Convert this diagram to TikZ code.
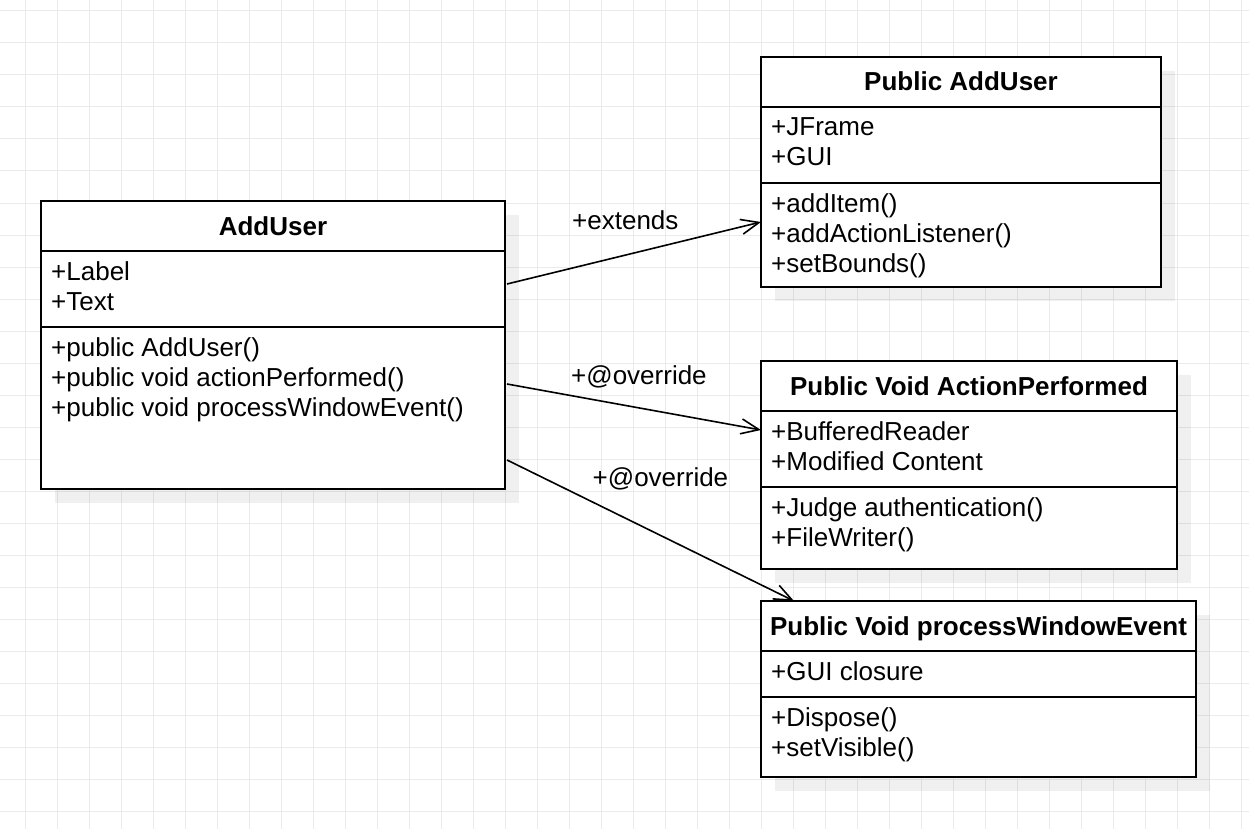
\documentclass[tikz,border=0pt]{standalone}
\usepackage{fontspec}
\setmainfont{Liberation Sans}
\usetikzlibrary{calc,arrows.meta,shadows}

\definecolor{gridc}{HTML}{EBEBEB}

\tikzset{
  classbox/.style={draw=black, line width=2pt, fill=white, anchor=north west,
    inner sep=0pt, outer sep=0pt,
    drop shadow={shadow xshift=14pt, shadow yshift=-14pt, fill=black, opacity=0.06}},
  divider/.style={draw=black, line width=2pt},
  mtext/.style={anchor=base west, inner sep=0pt, font=\fontsize{26}{30}\selectfont},
  htext/.style={anchor=base, inner sep=0pt, font=\fontsize{26}{30}\selectfont\bfseries},
  ltext/.style={anchor=base west, inner sep=0pt, font=\fontsize{26}{30}\selectfont},
  rel/.style={draw=black, line width=1.6pt,
    -{Straight Barb[length=18pt, width=15pt, line width=1.6pt]}}
}

\begin{document}
\begin{tikzpicture}[x=1pt, y=-1pt]
  % canvas and background grid
  \useasboundingbox (0,0) rectangle (1249,829);
  \fill[white] (0,0) rectangle (1249,829);
  \foreach \gx in {25,57,...,1249} \draw[gridc, line width=1pt] (\gx,0) -- (\gx,829);
  \foreach \gy in {11,43,...,829} \draw[gridc, line width=1pt] (0,\gy) -- (1249,\gy);

  % class AddUser
  \node[classbox, minimum width=464, minimum height=288] (au) at (41,201) {};
  \draw[divider] ($(au.north west)+(0,50)$) -- ($(au.north east)+(0,50)$);
  \draw[divider] ($(au.north west)+(0,126)$) -- ($(au.north east)+(0,126)$);
  \node[htext] (au-h) at (273,235) {AddUser};
  \node[mtext] (au-a1) at (51,280) {+Label};
  \node[mtext] (au-a2) at (51,310) {+Text};
  \node[mtext] (au-m1) at (51,356) {+public AddUser()};
  \node[mtext] (au-m2) at (51,386) {+public void actionPerformed()};
  \node[mtext] (au-m3) at (51,416) {+public void processWindowEvent()};

  % class Public AddUser
  \node[classbox, minimum width=400, minimum height=230] (pau) at (761,57) {};
  \draw[divider] ($(pau.north west)+(0,50)$) -- ($(pau.north east)+(0,50)$);
  \draw[divider] ($(pau.north west)+(0,126)$) -- ($(pau.north east)+(0,126)$);
  \node[htext] (pau-h) at (961,91) {Public AddUser};
  \node[mtext] (pau-a1) at (771,136) {+JFrame};
  \node[mtext] (pau-a2) at (771,166) {+GUI};
  \node[mtext] (pau-m1) at (771,212) {+addItem()};
  \node[mtext] (pau-m2) at (771,242) {+addActionListener()};
  \node[mtext] (pau-m3) at (771,272) {+setBounds()};

  % class Public Void ActionPerformed
  \node[classbox, minimum width=416, minimum height=208] (apf) at (761,361) {};
  \draw[divider] ($(apf.north west)+(0,50)$) -- ($(apf.north east)+(0,50)$);
  \draw[divider] ($(apf.north west)+(0,126)$) -- ($(apf.north east)+(0,126)$);
  \node[htext] (apf-h) at (969,395) {Public Void ActionPerformed};
  \node[mtext] (apf-a1) at (771,440) {+BufferedReader};
  \node[mtext] (apf-a2) at (771,470) {+Modified Content};
  \node[mtext] (apf-m1) at (771,516) {+Judge authentication()};
  \node[mtext] (apf-m2) at (771,546) {+FileWriter()};

  % class Public Void processWindowEvent
  \node[classbox, minimum width=435, minimum height=176] (pwe) at (761,601) {};
  \draw[divider] ($(pwe.north west)+(0,50)$) -- ($(pwe.north east)+(0,50)$);
  \draw[divider] ($(pwe.north west)+(0,96)$) -- ($(pwe.north east)+(0,96)$);
  \node[htext] (pwe-h) at (978.5,635) {Public Void processWindowEvent};
  \node[mtext] (pwe-a1) at (771,680) {+GUI closure};
  \node[mtext] (pwe-m1) at (771,726) {+Dispose()};
  \node[mtext] (pwe-m2) at (771,756) {+setVisible()};

  % connector end points
  \coordinate (au-o1) at ($(au.north east)+(2,83)$);
  \coordinate (au-o2) at ($(au.north east)+(2,183)$);
  \coordinate (au-o3) at ($(au.north east)+(2,259)$);
  \coordinate (pau-in) at ($(pau.north west)+(0,165)$);
  \coordinate (apf-in) at ($(apf.north west)+(0,69)$);
  \coordinate (pwe-in) at ($(pwe.north west)+(33,0)$);

  % relations
  \draw[rel] (au-o1) -- (pau-in);
  \draw[rel] (au-o2) -- (apf-in);
  \draw[rel] (au-o3) -- (pwe-in);

  % relation labels
  \node[ltext] (l-ext) at (572,229) {+extends};
  \node[ltext] (l-ov1) at (571,384) {+@override};
  \node[ltext] (l-ov2) at (592.5,486) {+@override};
\end{tikzpicture}
\end{document}
